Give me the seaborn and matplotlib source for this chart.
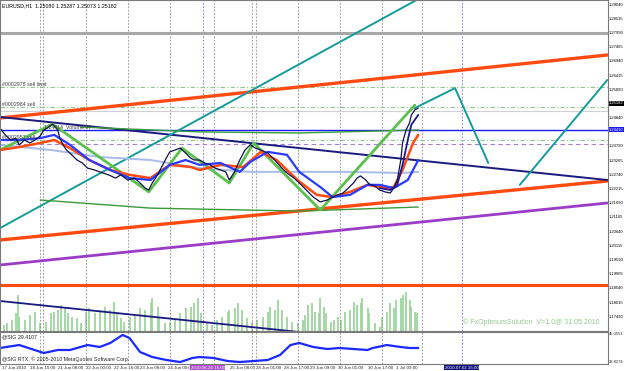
import matplotlib
matplotlib.use("Agg")
import matplotlib.pyplot as plt
import matplotlib.transforms as mtransforms
import seaborn as sns

# ---------------- data (bar index, price) ----------------
price_bar = [0, 3, 6, 9, 11, 14, 17, 20, 23, 25, 27, 30, 33, 34, 36, 38, 41, 44, 47, 50,
             54, 57, 62, 66, 69, 73, 77, 80, 83, 85, 87, 90, 93, 95, 97, 100, 103, 106, 109, 111,
             114, 117, 120, 123, 126, 129, 131, 134, 137, 140, 143, 146, 149, 153, 157, 161, 164, 168, 171, 175,
             179, 183, 187, 190, 193, 196, 199, 202, 204, 206, 209, 211, 214, 217, 220, 223, 225, 227, 229, 230,
             232, 234, 235, 237, 239]
price_val = [1.2447, 1.2422, 1.2403, 1.2410, 1.2385, 1.2403, 1.2392, 1.2403, 1.2418, 1.2440,
             1.2447, 1.2462, 1.2440, 1.2414, 1.2385, 1.2366, 1.2348, 1.2329, 1.2318, 1.2299,
             1.2292, 1.2285, 1.2274, 1.2262, 1.2274, 1.2255, 1.2262, 1.2244, 1.2225, 1.2218,
             1.2244, 1.2274, 1.2311, 1.2336, 1.2359, 1.2366, 1.2373, 1.2355, 1.2336, 1.2329,
             1.2329, 1.2318, 1.2311, 1.2299, 1.2292, 1.2285, 1.2255, 1.2285, 1.2329, 1.2366,
             1.2385, 1.2373, 1.2366, 1.2355, 1.2329, 1.2299, 1.2281, 1.2262, 1.2244, 1.2218,
             1.2192, 1.2174, 1.2181, 1.2192, 1.2200, 1.2207, 1.2225, 1.2244, 1.2262, 1.2270,
             1.2255, 1.2240, 1.2233, 1.2218, 1.2211, 1.2207, 1.2225, 1.2255, 1.2329, 1.2392,
             1.2440, 1.2466, 1.2495, 1.2514, 1.2521]

ma_red_bar = [0, 11, 23, 31, 40, 51, 63, 74, 86, 97, 109, 114, 126, 139, 149, 158, 170, 181, 190, 200,
              210, 221, 225, 230, 236, 239]
ma_red_val = [1.2366, 1.2377, 1.2392, 1.2403, 1.2373, 1.2329, 1.2292, 1.2274, 1.2262, 1.2311,
              1.2303, 1.2292, 1.2311, 1.2303, 1.2359, 1.2329, 1.2255, 1.2200, 1.2192, 1.2211,
              1.2237, 1.2225, 1.2229, 1.2292, 1.2392, 1.2422]

ma_blue_bar = [0, 11, 23, 31, 40, 51, 63, 74, 86, 97, 106, 114, 126, 137, 143, 153, 164, 171, 183, 190,
               200, 210, 217, 225, 233, 239]
ma_blue_val = [1.2403, 1.2403, 1.2410, 1.2422, 1.2385, 1.2329, 1.2292, 1.2262, 1.2255, 1.2311,
               1.2329, 1.2311, 1.2318, 1.2285, 1.2322, 1.2359, 1.2348, 1.2285, 1.2229, 1.2192,
               1.2200, 1.2237, 1.2237, 1.2225, 1.2255, 1.2329]

ma_fast_bar = [217, 223, 227, 230, 233, 235, 239]
ma_fast_val = [1.2225, 1.2218, 1.2237, 1.2311, 1.2403, 1.2459, 1.2496]

ma_slow_bar = [0, 29, 57, 86, 114, 143, 171, 200, 229, 239]
ma_slow_val = [1.2385, 1.2366, 1.2340, 1.2329, 1.2299, 1.2285, 1.2285, 1.2285, 1.2281, 1.2285]

zigzag_bar = [0, 30, 85, 104, 131, 145, 183, 237]
zigzag_val = [1.2366, 1.2462, 1.2211, 1.2373, 1.2244, 1.2392, 1.2144, 1.2532]

arc_up_bar = [46, 114, 171, 239]
arc_up_val = [1.2451, 1.2433, 1.2429, 1.2440]
arc_lo_bar = [23, 86, 171, 239]
arc_lo_val = [1.2181, 1.2151, 1.2140, 1.2155]

teal_proj_bar = [237, 260, 279]
teal_proj_val = [1.2521, 1.2595, 1.2318]

# trend lines: (bar0, price0, bar1, price1)
teal_a = (0, 1.2077, 238, 1.2921)
teal_b = (297, 1.2237, 347, 1.2625)
orange_up = (0, 1.24844, 347, 1.27175)
orange_lo = (0, 1.2033, 347, 1.22513)
purple_tl = (0, 1.19405, 347, 1.21699)
navy_tl = (0, 1.24881, 347, 1.2255)
navy_vol = (0, 1.18073, 171, 1.16926)

# horizontal levels
level_gray = 1.27989
level_blue = 1.24410
level_orange = 1.18665
levels_green = [1.2600, 1.2525, 1.2403]
level_lightgray = 1.2510
level_purple = 1.23882

# volume histogram
vol_bar = [2, 4, 7, 9, 10, 11, 14, 17, 20, 23, 26, 29, 31, 33, 35, 37, 39, 41, 44, 46,
           49, 51, 54, 57, 60, 63, 65, 67, 69, 71, 74, 77, 80, 83, 86, 87, 90, 91, 94, 97,
           100, 103, 106, 109, 111, 113, 115, 118, 121, 124, 127, 130, 131, 134, 136, 138, 141, 144, 147, 150,
           153, 154, 157, 159, 161, 164, 167, 170, 173, 174, 176, 178, 180, 182, 183, 185, 186, 189, 191, 193,
           195, 197, 200, 202, 204, 206, 207, 210, 211, 214, 217, 218, 221, 223, 225, 226, 229, 230, 232, 234,
           235, 237, 238]
vol_val = [180, 240, 330, 540, 1080, 420, 330, 480, 570, 240, 270, 540, 570, 630, 780, 720, 540, 420, 390, 240,
           570, 690, 540, 630, 720, 630, 870, 540, 390, 270, 420, 480, 690, 630, 840, 990, 720, 420, 240, 270,
           330, 540, 690, 720, 840, 990, 540, 240, 180, 330, 420, 570, 630, 690, 840, 630, 390, 270, 330, 420,
           570, 720, 630, 930, 630, 420, 270, 240, 330, 480, 780, 840, 570, 540, 990, 720, 540, 270, 330, 420,
           330, 570, 630, 870, 780, 840, 990, 690, 540, 240, 120, 420, 570, 840, 690, 930, 990, 1080, 1170, 930,
           720, 570, 540]

# oscillator
osc_bar = [0, 11, 25, 33, 40, 50, 57, 63, 70, 74, 80, 87, 95, 103, 110, 114, 122, 130, 137, 145,
           153, 160, 166, 171, 179, 187, 194, 202, 210, 213, 221, 229, 234, 239]
osc_val = [34.44, 36.43, 31.12, 33.11, 33.11, 36.43, 35.10, 37.76, 43.07, 41.07, 31.79, 28.47, 26.48, 25.15,
           27.81, 28.47, 27.81, 25.82, 25.15, 25.82, 26.48, 29.80, 36.43, 37.76, 35.10, 33.78, 34.44, 33.78,
           33.11, 34.44, 36.43, 35.10, 34.44, 34.44]

price_ticks = [1.29040, 1.28515, 1.27990, 1.27465, 1.26940, 1.26415, 1.25890, 1.24840, 1.23790,
               1.23265, 1.22740, 1.22215, 1.21690, 1.21165, 1.20640, 1.20115, 1.19590, 1.19065,
               1.18540, 1.18015, 1.17490]
close_label = "1.25182"
close_price = 1.25399
blue_label = "1.24410"

time_pos = [1, 17, 33, 49, 65, 80, 96, 131.5, 146, 162, 177, 193, 210, 226]
time_lab = ["17 Jun 2010", "18 Jun 15:00", "21 Jun 08:00", "22 Jun 00:00", "22 Jun 16:00",
            "23 Jun 08:00", "24 Jun 00:00", "25 Jun 08:00", "28 Jun 01:00", "28 Jun 17:00",
            "29 Jun 09:00", "30 Jun 01:00", "30 Jun 17:00", "1 Jul 09:00"]
cursor_pos = [109, 254]
cursor_lab = ["2010.06.24 16:00", "2010.07.02 15:00"]
cursor_col = ["#b050d0", "#10107a"]
sep_days = [23, 24.6, 49, 73, 97, 122, 144, 146, 170, 194, 218, 241]
sep_marks = [116, 264]

osc_top, osc_bot = 45.0551, 23.8274

# ---------------- figure ----------------
sns.set_theme(style="white")
plt.rcParams['font.family'] = ['Liberation Sans', 'DejaVu Sans']
W, H = 625, 371
fig = plt.figure(figsize=(W / 100, H / 100), dpi=100, facecolor="white")


def rect(x0, y0, x1, y1):
    return [x0 / W, 1 - y1 / H, (x1 - x0) / W, (y1 - y0) / H]


XMAX = 347.4
YLO, YHI = 1.16963, 1.29210

ax_vol = fig.add_axes(rect(0, 283, 608, 331), zorder=0)
ax = fig.add_axes(rect(0, 0, 608, 331), zorder=1)
ax.patch.set_alpha(0)
osc = fig.add_axes(rect(0, 332, 608, 364), zorder=1)

for a in (ax, ax_vol, osc):
    a.set_xlim(0, XMAX)
    a.set_xticks([])
    a.set_yticks([])
ax.set_ylim(YLO, YHI)
osc.set_ylim(osc_bot, osc_top)
ax_vol.set_ylim(0, 48 * 30)
for s in ax_vol.spines.values():
    s.set_visible(False)
for a in (ax, osc):
    for s in a.spines.values():
        s.set_color("#7a7a7a")
        s.set_linewidth(0.8)

# volume
ax_vol.vlines(vol_bar, 0, vol_val, color="#9ed49e", linewidth=1.3)

# separators
for b in sep_days:
    for a in (ax, osc):
        a.axvline(b, color="#8a8a8a", lw=0.6, ls=(0, (2, 2)), zorder=0)
for b in sep_marks:
    for a in (ax, osc):
        a.axvline(b, color="#8070d0", lw=0.6, ls=(0, (2, 2)), zorder=0)

# horizontal levels
ax.axhline(level_gray, color="#a8a8a8", lw=2.2)
ax.axhline(level_lightgray, color="#d0d0d0", lw=0.8)
for lv in levels_green:
    ax.axhline(lv, color="#8cc88c", lw=0.8, ls=(0, (4, 2, 1, 2)))
ax.axhline(level_purple, color="#a080d0", lw=0.8, ls=(0, (4, 3)))
ax.axhline(level_blue, color="#1a1aff", lw=1.0)
ax.axhline(level_orange, color="#ff4a10", lw=2.2)


def tl(a, seg, **kw):
    a.plot([seg[0], seg[2]], [seg[1], seg[3]], **kw)


tl(ax, orange_up, color="#ff4a10", lw=2.4)
tl(ax, orange_lo, color="#ff4a10", lw=2.4)
tl(ax, purple_tl, color="#9a3cc8", lw=2.0)
tl(ax, navy_tl, color="#1a1a80", lw=1.4)
tl(ax, navy_vol, color="#1a1a80", lw=1.3)
tl(ax, teal_a, color="#159a9a", lw=1.4)
tl(ax, teal_b, color="#159a9a", lw=1.4)
sns.lineplot(x=teal_proj_bar, y=teal_proj_val, ax=ax, color="#159a9a", lw=1.4, sort=False)

sns.lineplot(x=arc_up_bar, y=arc_up_val, ax=ax, color="#3a9a3a", lw=1.0)
sns.lineplot(x=arc_lo_bar, y=arc_lo_val, ax=ax, color="#3a9a3a", lw=1.0)
sns.lineplot(x=ma_slow_bar, y=ma_slow_val, ax=ax, color="#a8bce8", lw=1.4)
sns.lineplot(x=zigzag_bar, y=zigzag_val, ax=ax, color="#5cc04c", lw=2.0)
sns.lineplot(x=ma_red_bar, y=ma_red_val, ax=ax, color="#ff4a10", lw=1.8)
sns.lineplot(x=ma_blue_bar, y=ma_blue_val, ax=ax, color="#2a3aff", lw=1.6)
sns.lineplot(x=price_bar, y=price_val, ax=ax, color="#101050", lw=0.9)
sns.lineplot(x=ma_fast_bar, y=ma_fast_val, ax=ax, color="#1a1a90", lw=1.3)

# oscillator
sns.lineplot(x=osc_bar, y=osc_val, ax=osc, color="#1a2aff", lw=1.6)

for a in (ax, osc):
    a.set_xlabel("")
    a.set_ylabel("")

# texts
fs = 3.8
ax.text(0.004, 0.99, "EURUSD,H1  1.25080 1.25287 1.25073 1.25182", transform=ax.transAxes,
        fontsize=fs, va="top", ha="left", color="black")
ax.text(1, 1.2600, "#0002978 sell limit", fontsize=fs, va="bottom", color="#404040")
ax.text(1, 1.2525, "#0002984 sell", fontsize=fs, va="bottom", color="#404040")
ax.text(1, 1.2403, "#0002957 sell", fontsize=fs, va="bottom", color="#404040")
ax.text(25, 1.2441, "1.24414  Volume 57", fontsize=fs, va="bottom", color="#404040")
ax.text(264.5, 1.1716, "\u00a9 FxOptimumSolution  V=1.0@ 31.05.2010", fontsize=5.0,
        color="#94c894", va="bottom", clip_on=True)
osc.text(0.004, 0.93, "@SIG 29.4107", transform=osc.transAxes, fontsize=fs, va="top")
osc.text(0.004, 0.05, "@SIG RTX, \u00a9 2005-2010 MetaQuotes Software Corp.",
         transform=osc.transAxes, fontsize=fs, va="bottom")

# right price scale
fr = 3.0
trans = mtransforms.blended_transform_factory(ax.transAxes, ax.transData)
for v in price_ticks:
    ax.text(1.002, v, f"{v:.5f}", transform=trans, fontsize=fr, va="center", ha="left",
            color="black", clip_on=False)
ax.text(1.002, close_price, close_label, transform=trans, fontsize=fr, va="center", ha="left",
        color="white", clip_on=False,
        bbox=dict(boxstyle="square,pad=0.12", fc="black", ec="none"))
ax.text(1.002, level_blue, blue_label, transform=trans, fontsize=fr, va="center", ha="left",
        color="white", clip_on=False,
        bbox=dict(boxstyle="square,pad=0.12", fc="#1a1aff", ec="none"))
otrans = mtransforms.blended_transform_factory(osc.transAxes, osc.transData)
osc.text(1.002, osc_top, f"{osc_top:.4f}", transform=otrans, fontsize=fr, va="top",
         ha="left", clip_on=False)
osc.text(1.002, osc_bot, f"{osc_bot:.4f}", transform=otrans, fontsize=fr, va="bottom",
         ha="left", clip_on=False)

# time scale
ft = 3.2
ttrans = mtransforms.blended_transform_factory(osc.transData, osc.transAxes)
for p, lab in zip(time_pos, time_lab):
    osc.text(p, -0.06, lab, transform=ttrans, fontsize=ft, va="top", ha="left", clip_on=False)
for p, lab, c in zip(cursor_pos, cursor_lab, cursor_col):
    osc.text(p, -0.06, lab, transform=ttrans, fontsize=ft, va="top", ha="left",
             color="white", clip_on=False,
             bbox=dict(boxstyle="square,pad=0.1", fc=c, ec="none"))

fig.savefig("out.png", dpi=100, facecolor="white")
